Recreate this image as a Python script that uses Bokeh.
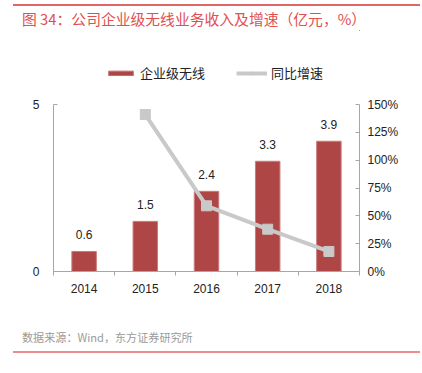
from bokeh.plotting import figure
from bokeh.models import (Range1d, LinearAxis, FixedTicker, PrintfTickFormatter, Div,
                          Legend, LegendItem, ColumnDataSource)
from bokeh.layouts import column
from bokeh.core.properties import value
from bokeh.embed import file_html
from bokeh.resources import INLINE

years = ["2014", "2015", "2016", "2017", "2018"]
revenue = [0.6, 1.5, 2.4, 3.3, 3.9]
growth_years = ["2015", "2016", "2017", "2018"]
growth = [141, 59, 38, 18]
series_names = ["企业级无线", "同比增速"]
title_text = "图 34：公司企业级无线业务收入及增速（亿元，%）"
source_text = "数据来源：Wind，东方证券研究所"

W = 420
TOP_H = 30
LEG_H = 60
FIG_H = 235  # main figure spans y 90..325
FL, FR = 53, 359  # frame left / right edges in page pixels

BAR_FILL = "#ad4645"
BAR_LINE = "#c97c7b"
LINE_COL = "#c9c9c9"

xs = [i + 0.5 for i in range(len(years))]
gx = [years.index(y) + 0.5 for y in growth_years]
src = ColumnDataSource(dict(x=xs, y=revenue, lab=[f"{v:.1f}" for v in revenue]))

title_div = Div(width=W, height=TOP_H, margin=0, text=(
    f'<div style="margin-left:13px;margin-top:4px;width:407px;border-top:2px solid #e06666;'
    f'padding:4px 0 0 9px;box-sizing:border-box;color:#e0504f;font-family:\'Noto Sans CJK SC\';'
    f'font-size:14.8px;line-height:17px;white-space:nowrap">{title_text}</div>'))

# legend strip (its series glyphs lie outside its view, only the legend shows)
pl = figure(width=W, height=LEG_H, output_backend="svg", toolbar_location=None, title=None,
            x_axis_location=None, y_axis_location=None, min_border=0,
            min_border_left=FL, min_border_right=W - FR, margin=0,
            x_range=Range1d(-10, -9), y_range=Range1d(-10, -9))
pl.outline_line_color = None
pl.grid.visible = False
lb = pl.vbar(x="x", top="y", width=0.4, source=src, fill_color=BAR_FILL, line_color=BAR_LINE)
ll = pl.line(gx, growth, line_color=LINE_COL, line_width=4)
ls = pl.scatter(gx, growth, marker="square", size=9, fill_color=LINE_COL, line_color=LINE_COL)
legend = Legend(items=[LegendItem(label=series_names[0], renderers=[lb]),
                       LegendItem(label=series_names[1], renderers=[ll, ls])],
                orientation="horizontal", location=(105 - FL, 8), glyph_width=31, glyph_height=6,
                label_height=16, label_text_font="Noto Sans CJK SC", label_text_font_size="13px",
                label_text_color="#222222", spacing=31, border_line_color=None,
                background_fill_alpha=0, label_standoff=4, padding=0, margin=0)
pl.add_layout(legend)

p = figure(width=W, height=FIG_H, output_backend="svg", toolbar_location=None,
           x_range=Range1d(0, len(years)), y_range=Range1d(0, 5),
           min_border_left=FL, min_border_right=W - FR, min_border_top=104 - TOP_H - LEG_H,
           min_border_bottom=TOP_H + LEG_H + FIG_H - 271, margin=0)
p.outline_line_color = None
p.grid.visible = False
p.background_fill_color = "white"
p.border_fill_color = "white"

axis_col = "#a6a6a6"
p.vbar(x="x", top="y", width=0.4, source=src, fill_color=BAR_FILL, line_color=BAR_LINE, line_width=1)
p.text(x="x", y="y", text="lab", source=src, text_align="center", text_baseline="bottom",
       y_offset=-12, text_font_size="12px", text_color="#222222", text_font=value("Liberation Sans"))

p.extra_y_ranges = {"pct": Range1d(0, 150)}
p.line(gx, growth, y_range_name="pct", line_color=LINE_COL, line_width=4)
p.scatter(gx, growth, y_range_name="pct", marker="square", size=10, fill_color=LINE_COL, line_color=LINE_COL)

xa = p.xaxis[0]
xa.ticker = FixedTicker(ticks=xs, minor_ticks=list(range(len(years) + 1)))
xa.major_label_overrides = {x: y for x, y in zip(xs, years)}
xa.major_tick_line_color = None
xa.minor_tick_in = 0
xa.minor_tick_out = 4
xa.minor_tick_line_color = axis_col
xa.axis_line_color = axis_col
xa.major_label_text_font_size = "12px"
xa.major_label_text_color = "#222222"
xa.major_label_text_font = "Liberation Sans"
xa.major_label_standoff = 6

ya = p.yaxis[0]
ya.ticker = FixedTicker(ticks=[0, 5], minor_ticks=[])
ya.major_tick_in = 4
ya.major_tick_out = 0
ya.major_tick_line_color = axis_col
ya.axis_line_color = axis_col
ya.major_label_text_font_size = "12px"
ya.major_label_text_color = "#222222"
ya.major_label_text_font = "Liberation Sans"
ya.major_label_standoff = 14

ra = LinearAxis(y_range_name="pct", ticker=FixedTicker(ticks=[0, 25, 50, 75, 100, 125, 150], minor_ticks=[]),
                formatter=PrintfTickFormatter(format="%d%%"))
ra.major_tick_in = 4
ra.major_tick_out = 0
ra.major_tick_line_color = axis_col
ra.axis_line_color = axis_col
ra.major_label_text_font_size = "12px"
ra.major_label_text_color = "#222222"
ra.major_label_text_font = "Liberation Sans"
ra.major_label_standoff = 8
p.add_layout(ra, "right")

source_div = Div(width=W, height=35, margin=0, text=(
    f'<div style="margin-left:13px;width:407px;border-bottom:2px solid #ee8b8b;box-sizing:border-box;'
    f'padding:5px 0 6px 9px;color:#9a9a9a;font-family:\'Noto Sans CJK SC\';font-size:11.1px;'
    f'line-height:15px;white-space:nowrap">{source_text}</div>'))

layout = column(title_div, pl, p, source_div, spacing=0)
open("out.html", "w").write(file_html(layout, INLINE))
